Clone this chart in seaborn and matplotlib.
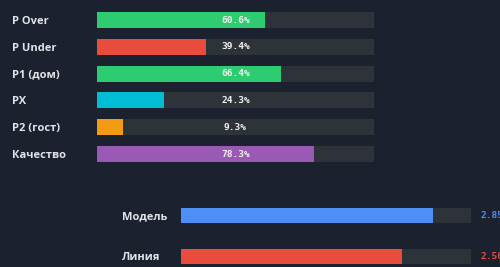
import matplotlib
matplotlib.use("Agg")
import matplotlib.pyplot as plt
import seaborn as sns

# top block: probabilities in percent
prob_labels = ["P Over", "P Under", "P1 (дом)", "PX", "P2 (гост)", "Качество"]
prob_values = [60.6, 39.4, 66.4, 24.3, 9.3, 78.3]
prob_colors = ["#2ecc71", "#e74c3c", "#2ecc71", "#00bcd4", "#f39c12", "#9b59b6"]

# bottom block: model vs line
cmp_labels = ["Модель", "Линия"]
cmp_values = [2.85, 2.50]
cmp_colors = ["#4e8ef7", "#e74c3c"]

bg = "#1c2130"
track = "#2e3339"
txt = "#e2e4e8"

plt.rcParams["font.family"] = ["Open Sans", "DejaVu Sans"]

fig = plt.figure(figsize=(5, 2.67), dpi=100, facecolor=bg)

# ---- top block
ax1 = fig.add_axes([97 / 500, 0.373, 277 / 500, 0.602])
ax1.set_facecolor(bg)
sns.barplot(x=[100] * len(prob_labels), y=prob_labels, color=track, saturation=1,
            width=0.6, orient="h", ax=ax1)
sns.barplot(x=prob_values, y=prob_labels, hue=prob_labels, palette=prob_colors,
            saturation=1, width=0.6, orient="h", legend=False, ax=ax1)
ax1.set_xlim(0, 100)
ax1.bar_label(ax1.containers[0], labels=[f"{v:.1f}%" for v in prob_values],
              label_type="center", color="#f2f2f2", fontsize=6.8,
              fontweight="bold", family="DejaVu Sans Mono")

# ---- bottom block
ax2 = fig.add_axes([181 / 500, -0.036, 290 / 500, 82 / 267])
ax2.set_facecolor(bg)
sns.barplot(x=[max(cmp_values) * 1.15] * len(cmp_labels), y=cmp_labels, color=track,
            saturation=1, width=0.37, orient="h", ax=ax2)
sns.barplot(x=cmp_values, y=cmp_labels, hue=cmp_labels, palette=cmp_colors,
            saturation=1, width=0.37, orient="h", legend=False, ax=ax2)
ax2.set_xlim(0, max(cmp_values) * 1.15)
vals = ax2.bar_label(ax2.containers[0], labels=[f"{v:.2f}" for v in cmp_values],
                     padding=7, fontsize=6.8, fontweight="bold",
                     family="DejaVu Sans Mono")
for t, c in zip(vals, cmp_colors):
    t.set_color(c)

for ax, pad in ((ax1, 61), (ax2, 42.5)):
    for s in ax.spines.values():
        s.set_visible(False)
    ax.set_xlabel("")
    ax.set_ylabel("")
    ax.set_xticks([])
    ax.tick_params(axis="y", length=0, pad=pad, labelsize=8, labelcolor=txt)
    for lab in ax.get_yticklabels():
        lab.set_ha("left")
        lab.set_fontweight("bold")

fig.savefig("out.png", dpi=100, facecolor=bg)
